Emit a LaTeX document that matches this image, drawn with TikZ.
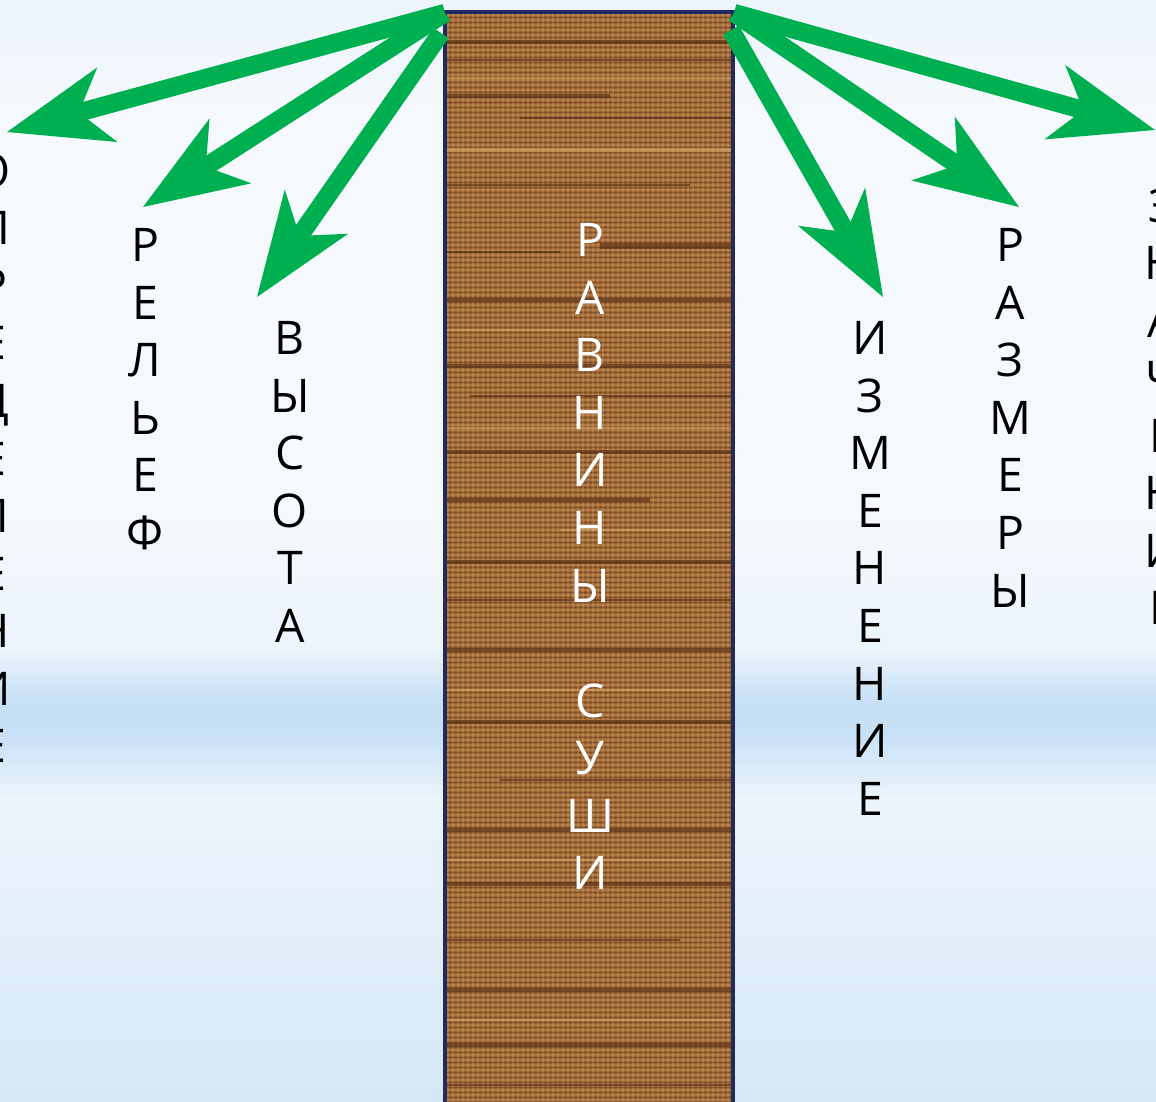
\documentclass[tikz,border=0pt]{standalone}
\usepackage{fontspec}
\setmainfont{Open Sans}
\usetikzlibrary{arrows.meta}

\definecolor{arrowgreen}{RGB}{0,176,80}
\definecolor{woodbase}{RGB}{150,94,48}
\definecolor{darkwood}{RGB}{80,40,16}
\definecolor{lightwood}{RGB}{212,164,100}
\definecolor{colborder}{RGB}{32,42,96}
\definecolor{bgdeep}{RGB}{212,232,248}
\definecolor{bgsoft}{RGB}{225,238,250}
\definecolor{bgpale}{RGB}{236,244,252}
\definecolor{bgband}{RGB}{198,224,246}
\definecolor{bgwhite}{RGB}{245,249,253}

\pgfdeclareverticalshading{skyband}{100bp}{color(0bp)=(bgdeep); color(25bp)=(bgdeep);
  color(32bp)=(bgsoft); color(38.7bp)=(bgpale); color(41.8bp)=(bgband); color(43.2bp)=(bgband);
  color(45.5bp)=(bgpale); color(52bp)=(bgwhite); color(70bp)=(bgwhite); color(75bp)=(bgpale);
  color(100bp)=(bgpale)}

\begin{document}
\begin{tikzpicture}[x=0.025cm,y=-0.025cm,
    word/.style={anchor=north,inner sep=0pt,align=center,font=\fontsize{33}{40.9}\selectfont},
    woodgrain/.style={lightwood,line width=0.9pt,opacity=0.35},
    woodpore/.style={darkwood,line width=0.5pt,opacity=0.3},
    pointer/.style={draw=arrowgreen,line width=13pt,
      -{Stealth[length=74pt,width=55pt,inset=21pt,line width=0pt]}}]
		\useasboundingbox (0,0) rectangle (1156,1101);
		\clip (0,0) rectangle (1156,1101);

		% >>> background
		\shade[shading=skyband] (0,0) rectangle (1156,1101);
		% <<< background

		% >>> wooden column
		\coordinate (colNW) at (445,13);
		\coordinate (colNWlow) at (441,33);
		\coordinate (colNE) at (734,13);
		\coordinate (colNElow) at (731,30);
		\fill[woodbase] (445,12) rectangle (733,1110);
		\foreach \xx in {448,453,...,730} \draw[woodgrain] (\xx,12) -- (\xx,1101);
		\foreach \yy in {15,20,...,1100} \draw[woodgrain] (445,\yy) -- (733,\yy);
		\foreach \yy in {17.5,22.5,...,1100} \draw[woodpore] (445,\yy) -- (733,\yy);
		\foreach \xa/\xb/\yy/\ww/\cc in {445/733/42/3/darkwood, 445/733/60/2/darkwood, 445/733/78/2/lightwood,
		    445/610/96/3/darkwood, 520/733/118/2/darkwood, 445/733/150/3/lightwood, 445/690/185/2/darkwood,
		    600/733/246/4/darkwood, 445/560/252/2/darkwood, 445/733/300/3/darkwood, 445/733/330/2/lightwood,
		    445/733/366/3/darkwood, 470/733/396/2/darkwood, 445/733/428/2/lightwood, 445/733/452/3/darkwood,
		    445/650/500/3/darkwood, 560/733/530/2/lightwood, 445/733/562/3/darkwood, 445/733/600/2/darkwood,
		    445/733/650/3/darkwood, 445/733/690/2/lightwood, 445/733/722/3/darkwood, 500/733/780/2/darkwood,
		    445/733/830/3/darkwood, 445/733/860/2/lightwood, 445/733/884/3/darkwood, 445/680/940/2/darkwood,
		    445/733/990/3/darkwood, 445/733/1020/2/lightwood, 445/733/1045/3/darkwood, 445/733/1085/2/darkwood}
		  \draw[\cc,line width=\ww pt,opacity=0.6] (\xa,\yy) -- (\xb,\yy);
		\draw[colborder,line width=2.2pt] (445,1110) -- (445,12) -- (733,12) -- (733,1110);
		\node[word,text=white] (plain) at (590,223.5) {Р\\А\\В\\Н\\И\\Н\\Ы\\[40.9pt]С\\У\\Ш\\И};
		% <<< wooden column

		% >>> words left
		\node[word] (defn) at (-7,153.5) {О\\П\\Р\\Е\\Д\\Е\\Л\\Е\\Н\\И\\Е};
		\node[word] (relief) at (145,228.5) {Р\\Е\\Л\\Ь\\Е\\Ф};
		\node[word] (height) at (290,321.5) {В\\Ы\\С\\О\\Т\\А};
		% <<< words left

		% >>> words right
		\node[word] (change) at (870,321.5) {И\\З\\М\\Е\\Н\\Е\\Н\\И\\Е};
		\node[word] (size) at (1010,228.5) {Р\\А\\З\\М\\Е\\Р\\Ы};
		\node[word] (value) at (1162,188.5) {З\\Н\\А\\Ч\\Е\\Н\\И\\Е};
		% <<< words right

		% >>> arrows
		\coordinate (tipDefn) at (7,132);
		\coordinate (tipRelief) at (143,207);
		\coordinate (tipHeight) at (257,297);
		\coordinate (tipValue) at (1155,130);
		\coordinate (tipSize) at (1019,207);
		\coordinate (tipChange) at (883,297);
		\draw[pointer] (colNW) -- (tipDefn);
		\draw[pointer] (colNW) -- (tipRelief);
		\draw[pointer] (colNWlow) -- (tipHeight);
		\draw[pointer] (colNE) -- (tipValue);
		\draw[pointer] (colNE) -- (tipSize);
		\draw[pointer] (colNElow) -- (tipChange);
		% <<< arrows
	\end{tikzpicture}
\end{document}
